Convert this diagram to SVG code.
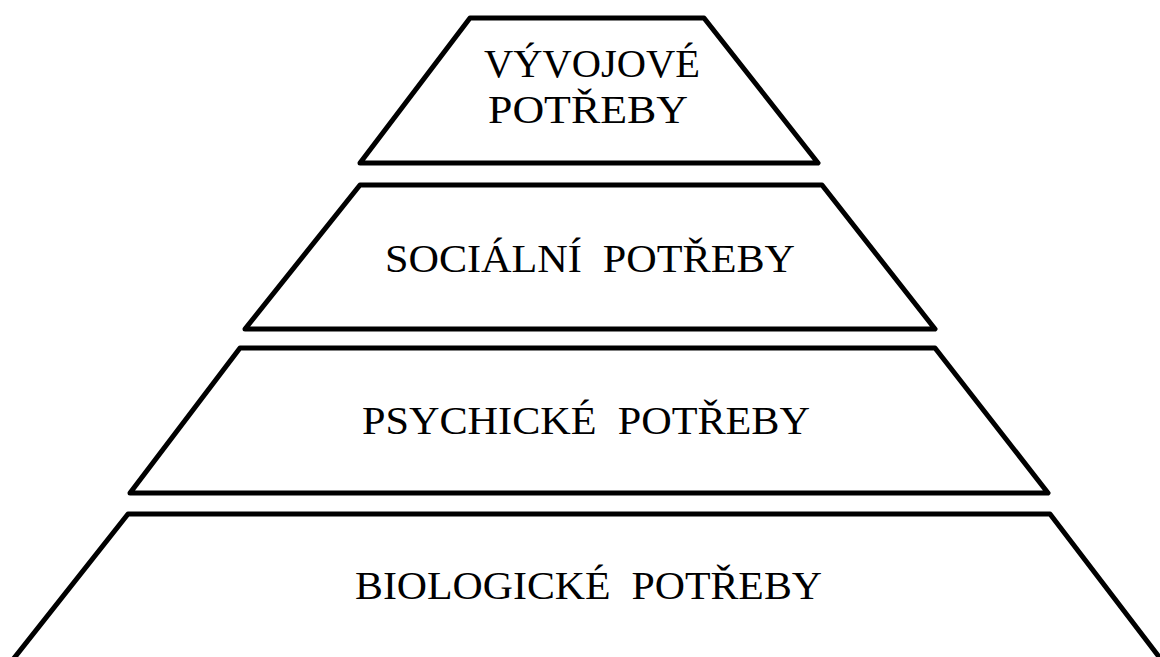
<svg xmlns="http://www.w3.org/2000/svg" width="1160" height="657" viewBox="0 0 1160 657">
<style>
.lvl{fill:#fff;stroke:#000;stroke-width:5;stroke-linejoin:round}
.t{font-family:"Liberation Serif","Times New Roman",serif;font-size:40px;fill:#000}
</style>
<rect width="1160" height="657" fill="#fff"/>
<g id="level4">
<polygon class="lvl" points="470,18 704,18 818,163 360,163"/>
<text class="t" x="484" y="77" textLength="216" lengthAdjust="spacingAndGlyphs">VÝVOJOVÉ</text>
<text class="t" x="488" y="123" textLength="200" lengthAdjust="spacingAndGlyphs">POTŘEBY</text>
</g>
<g id="level3">
<polygon class="lvl" points="360,185 822,185 935,329 245,329"/>
<text class="t" x="385" y="272" textLength="410" lengthAdjust="spacingAndGlyphs" xml:space="preserve">SOCIÁLNÍ  POTŘEBY</text>
</g>
<g id="level2">
<polygon class="lvl" points="240,348 935,348 1048,493 130,493"/>
<text class="t" x="362" y="434" textLength="448" lengthAdjust="spacingAndGlyphs" xml:space="preserve">PSYCHICKÉ  POTŘEBY</text>
</g>
<g id="level1">
<polygon class="lvl" points="128,514 1050,514 1163,662 11,662"/>
<text class="t" x="355" y="599" textLength="467" lengthAdjust="spacingAndGlyphs" xml:space="preserve">BIOLOGICKÉ  POTŘEBY</text>
</g>
<g id="connectors"/>
</svg>
